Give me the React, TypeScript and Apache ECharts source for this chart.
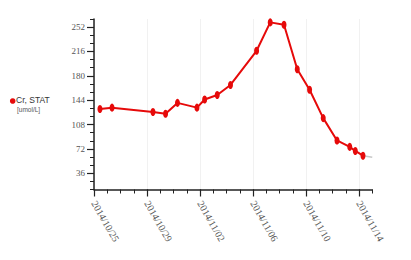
import React, { useEffect, useRef } from "react";
import * as echarts from "echarts";

// days since 2014/10/25
const dayOffsets = [0.45, 1.36, 4.45, 5.4, 6.3, 7.77, 8.35, 9.3, 10.3, 12.27, 13.3, 14.34, 15.34, 16.27, 17.3, 18.34, 19.3, 19.72, 20.3];
const crValues = [131, 133, 126.5, 124, 140, 133, 145, 151.7, 166.5, 217, 259, 255.5, 189.8, 159.5, 117.5, 84.5, 75, 69, 62];
const extensionEnd = [21, 59.5];
const xTickDays = [0, 4, 8, 12, 16, 20];
const yTickValues = [36, 72, 108, 144, 180, 216, 252];
const startDate = new Date(2014, 9, 25);
const seriesName = "Cr, STAT";
const unitLabel = "[umol/L]";

function fmtDate(d: number): string {
  const dt = new Date(startDate.getTime() + Math.round(d) * 86400000);
  const m = String(dt.getMonth() + 1).padStart(2, "0");
  const day = String(dt.getDate()).padStart(2, "0");
  return `${dt.getFullYear()}/${m}/${day}`;
}

export default function App() {
  const ref = useRef<HTMLDivElement>(null);
  useEffect(() => {
    if (!ref.current) return;
    const chart = echarts.init(ref.current, null, { renderer: "svg" });
    const data = dayOffsets.map((d, i) => [d, crValues[i]]);
    const last = data[data.length - 1];
    const axisColor = "#222";
    chart.setOption({
      animation: false,
      backgroundColor: "#fff",
      grid: { left: 94, right: 38.75, top: 19, bottom: 70.5 },
      xAxis: [
        {
          type: "value",
          min: 0,
          max: 21,
          interval: 4,
          axisLine: { show: true, onZero: false, lineStyle: { color: axisColor, width: 1.5 } },
          axisTick: { show: true, length: 7, customValues: xTickDays, lineStyle: { color: axisColor, width: 1.2 } },
          axisLabel: {
            customValues: xTickDays,
            rotate: -60,
            margin: 12,
            fontFamily: "Liberation Serif",
            fontSize: 10,
            color: "#555",
            formatter: (v: number) => fmtDate(v),
          },
          splitLine: { show: true, lineStyle: { color: "#f1f1f1", width: 1 } },
        },
        {
          type: "value",
          min: 0,
          max: 21,
          interval: 1,
          position: "bottom",
          axisLine: { show: false, onZero: false },
          axisTick: { show: true, length: 4, lineStyle: { color: axisColor, width: 1 } },
          axisLabel: { show: false },
          splitLine: { show: false },
        },
      ],
      yAxis: [
        {
          type: "value",
          min: 12,
          max: 264,
          interval: 12,
          axisLine: { show: true, onZero: false, lineStyle: { color: axisColor, width: 1.5 } },
          axisTick: { show: true, length: 7, customValues: yTickValues, lineStyle: { color: axisColor, width: 1.2 } },
          axisLabel: {
            customValues: yTickValues,
            margin: 9,
            fontFamily: "Liberation Serif",
            fontSize: 9,
            color: "#555",
          },
          splitLine: { show: false },
        },
        {
          type: "value",
          min: 12,
          max: 264,
          interval: 12,
          position: "left",
          axisLine: { show: false, onZero: false },
          axisTick: { show: true, length: 4, lineStyle: { color: axisColor, width: 1 } },
          axisLabel: { show: false },
          splitLine: { show: false },
        },
      ],
      series: [
        {
          name: seriesName,
          type: "line",
          data,
          xAxisIndex: 0,
          yAxisIndex: 0,
          symbol: "circle",
          symbolSize: [5, 8],
          showSymbol: true,
          itemStyle: { color: "#e60a0a" },
          lineStyle: { color: "#e60a0a", width: 2 },
          z: 3,
        },
        {
          name: "ext",
          type: "line",
          data: [last, extensionEnd],
          symbol: "none",
          lineStyle: { color: "#c8c8c8", width: 1.5 },
          z: 2,
        },
      ],
      graphic: [
        { type: "circle", shape: { cx: 12.7, cy: 101, r: 2.8 }, style: { fill: "#e60a0a" } },
        {
          type: "text",
          x: 16,
          y: 100,
          style: { text: seriesName, fontFamily: "Liberation Sans", fontSize: 8.5, fill: "#333", verticalAlign: "middle" },
        },
        {
          type: "text",
          x: 17,
          y: 109.5,
          style: { text: unitLabel, fontFamily: "Liberation Sans", fontSize: 6.5, fill: "#555", verticalAlign: "middle" },
        },
      ],
    });
    return () => chart.dispose();
  }, []);
  return <div ref={ref} style={{ position: "fixed", left: 0, top: 0, width: 411, height: 260 }} />;
}
